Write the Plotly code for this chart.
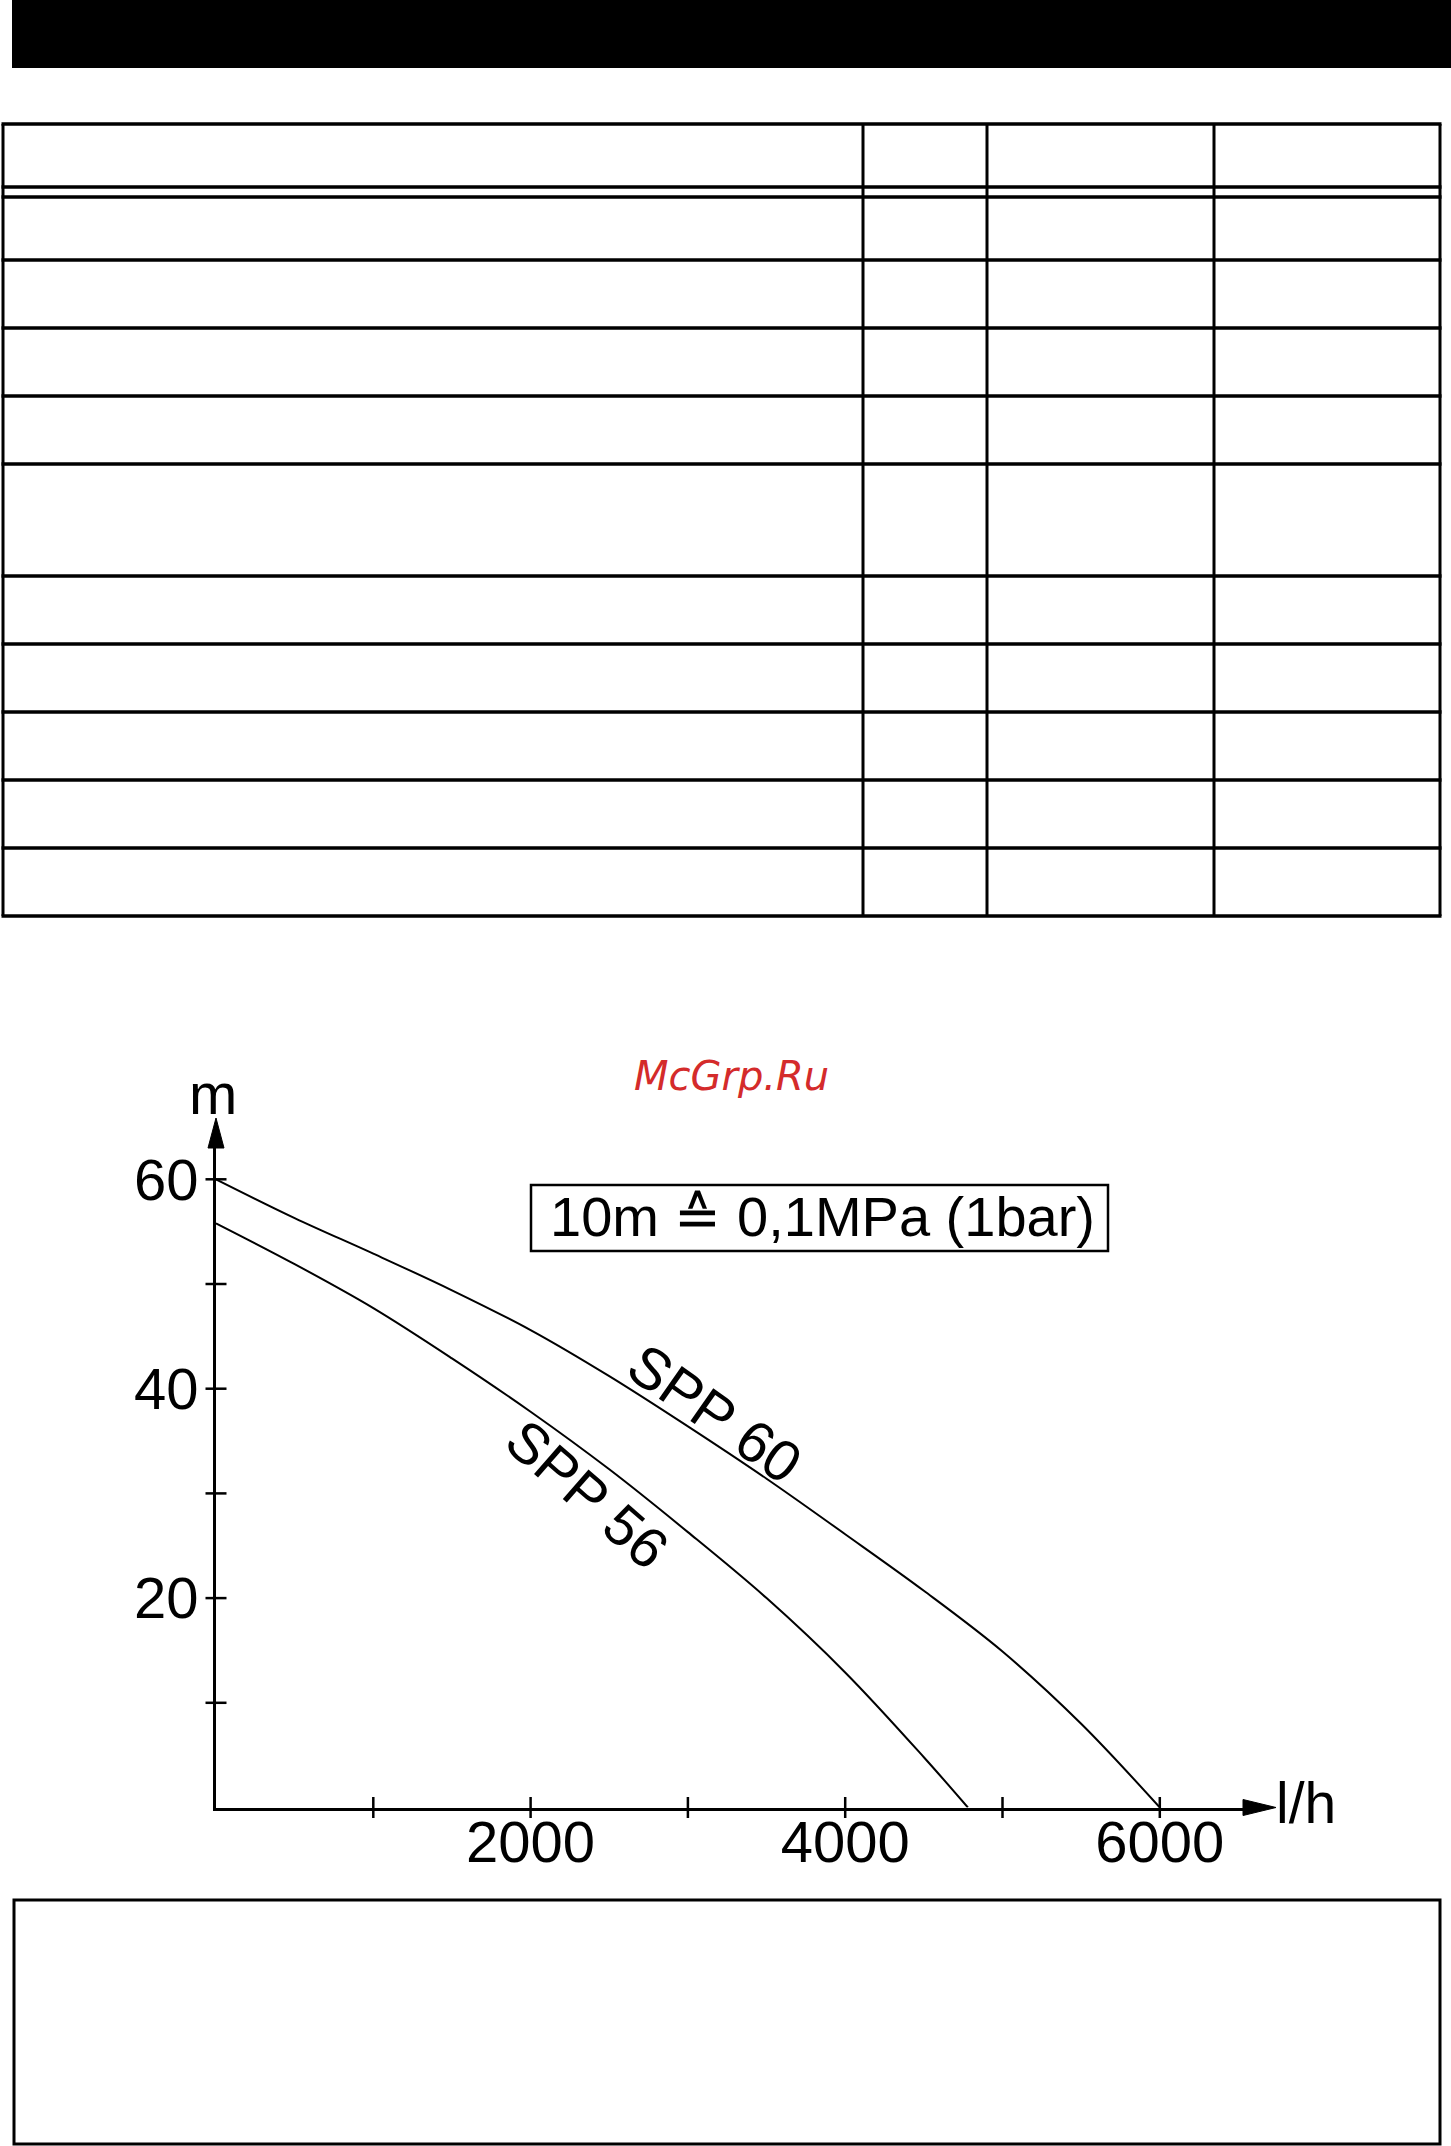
import plotly.graph_objects as go

# ---------------- data ----------------
flow_spp60 = [0, 500, 1000, 1500, 2000, 2500, 3000, 3500, 4000, 4500, 5000, 5500, 6000]
head_spp60 = [60.0, 56.3, 52.9, 49.4, 45.6, 41.2, 36.4, 31.4, 26.1, 20.7, 14.9, 8.0, 0.0]
flow_spp56 = [0, 500, 1000, 1500, 2000, 2500, 3000, 3500, 4000, 4500, 4780]
head_spp56 = [55.8, 51.9, 47.7, 42.9, 37.8, 32.3, 26.3, 20.0, 12.9, 4.8, 0.0]
x_tick_marks = [1000, 2000, 3000, 4000, 5000, 6000]
x_tick_labels = [2000, 4000, 6000]
y_tick_marks = [10, 20, 30, 40, 50, 60]
y_tick_labels = [20, 40, 60]
series_names = ["SPP 60", "SPP 56"]
note_text = "10m ≙ 0,1MPa (1bar)"
x_unit = "l/h"
y_unit = "m"
watermark = "McGrp.Ru"

# ---------------- page geometry (pixels) ----------------
W, H = 1451, 2146
def px(x):
    return x / W
def py(y):
    return 1 - y / H

X0_PX, X_END_PX = 216, 1243      # x axis origin / arrow base
Y0_PX, Y_END_PX = 1807.5, 1148   # y axis origin / arrow base
PX_PER_1000 = 157.3
PX_PER_10M = 104.7
FONT = "Liberation Sans, Arial, sans-serif"

fig = go.Figure()

fig.add_trace(go.Scatter(x=flow_spp60, y=head_spp60, mode="lines",
                         line=dict(color="black", width=2, shape="spline", smoothing=1.0),
                         name=series_names[0], hoverinfo="skip"))
fig.add_trace(go.Scatter(x=flow_spp56, y=head_spp56, mode="lines",
                         line=dict(color="black", width=2, shape="spline", smoothing=1.0),
                         name=series_names[1], hoverinfo="skip"))
# crossing tick marks
fig.add_trace(go.Scatter(x=x_tick_marks, y=[0] * len(x_tick_marks), mode="markers",
                         marker=dict(symbol="line-ns", size=15, line=dict(color="black", width=2.5)),
                         cliponaxis=False, hoverinfo="skip"))
fig.add_trace(go.Scatter(x=[0] * len(y_tick_marks), y=y_tick_marks, mode="markers",
                         marker=dict(symbol="line-ew", size=15, line=dict(color="black", width=2.5)),
                         cliponaxis=False, hoverinfo="skip"))

shapes = []
# black header bar
shapes.append(dict(type="rect", xref="paper", yref="paper", x0=px(12), x1=px(1451),
                   y0=py(68), y1=py(0), fillcolor="black", line=dict(width=0), layer="below"))
# table grid
row_lines = [124, 187, 197, 260, 328, 396, 464, 576, 644, 712, 780, 848, 916]
col_lines = [3, 863, 987, 1214, 1440]
for yy in row_lines:
    shapes.append(dict(type="line", xref="paper", yref="paper", x0=px(1.5), x1=px(1441.5),
                       y0=py(yy), y1=py(yy), line=dict(color="black", width=3.5)))
for xx in col_lines:
    shapes.append(dict(type="line", xref="paper", yref="paper", x0=px(xx), x1=px(xx),
                       y0=py(row_lines[0]), y1=py(row_lines[-1]), line=dict(color="black", width=3)))
# bottom empty box
shapes.append(dict(type="rect", xref="paper", yref="paper", x0=px(14), x1=px(1440),
                   y0=py(2144), y1=py(1900), line=dict(color="black", width=3)))
# note box
shapes.append(dict(type="rect", xref="paper", yref="paper", x0=px(531), x1=px(1108),
                   y0=py(1251), y1=py(1185), line=dict(color="black", width=2.5)))
# axis arrows
shapes.append(dict(type="path", xref="paper", yref="paper",
                   path=f"M {px(X_END_PX)},{py(Y0_PX-8)} L {px(X_END_PX)},{py(Y0_PX+8)} L {px(1276)},{py(Y0_PX)} Z",
                   fillcolor="black", line=dict(color="black", width=1)))
shapes.append(dict(type="path", xref="paper", yref="paper",
                   path=f"M {px(X0_PX-8)},{py(Y_END_PX)} L {px(X0_PX+8)},{py(Y_END_PX)} L {px(X0_PX)},{py(1118)} Z",
                   fillcolor="black", line=dict(color="black", width=1)))

annotations = [
    dict(text=watermark, xref="paper", yref="paper", x=px(731), y=py(1076), showarrow=False,
         xanchor="center", yanchor="middle",
         font=dict(family="DejaVu Sans", size=40, color="#d42b2b", style="italic")),
    dict(text=note_text, xref="paper", yref="paper", x=px(822), y=py(1216), showarrow=False,
         xanchor="center", yanchor="middle", font=dict(family=FONT, size=56, color="black")),
    dict(text=y_unit, xref="paper", yref="paper", x=px(213), y=py(1093), showarrow=False,
         xanchor="center", yanchor="middle", font=dict(family=FONT, size=58, color="black")),
    dict(text=x_unit, xref="paper", yref="paper", x=px(1274), y=py(1803), showarrow=False,
         xanchor="left", yanchor="middle", font=dict(family=FONT, size=57, color="black")),
    dict(text=series_names[0], xref="x", yref="y", x=3175, y=37.6, showarrow=False,
         textangle=35, xanchor="center", yanchor="middle", font=dict(family=FONT, size=58, color="black")),
    dict(text=series_names[1], xref="x", yref="y", x=2360, y=29.9, showarrow=False,
         textangle=41, xanchor="center", yanchor="middle", font=dict(family=FONT, size=57, color="black")),
]

fig.update_layout(
    width=W, height=H, margin=dict(l=0, r=0, t=0, b=0, pad=0),
    paper_bgcolor="white", plot_bgcolor="white", showlegend=False,
    shapes=shapes, annotations=annotations,
    xaxis=dict(domain=[px(X0_PX), px(X_END_PX)], range=[0, (X_END_PX - X0_PX) / PX_PER_1000 * 1000],
               showgrid=False, zeroline=False, showline=True, linecolor="black", linewidth=3,
               tickvals=x_tick_labels, ticktext=[str(v) for v in x_tick_labels], ticks="",
               ticklabelstandoff=-18, tickfont=dict(family=FONT, size=58, color="black"),
               fixedrange=True),
    yaxis=dict(domain=[py(Y0_PX), py(Y_END_PX)], range=[0, (Y0_PX - Y_END_PX) / PX_PER_10M * 10],
               showgrid=False, zeroline=False, showline=True, linecolor="black", linewidth=3,
               tickvals=y_tick_labels, ticktext=[str(v) for v in y_tick_labels], ticks="",
               ticklabelstandoff=3, tickfont=dict(family=FONT, size=58, color="black"),
               fixedrange=True),
)

fig.write_html("out.html", config={"displayModeBar": False},
               post_script="document.body.style.margin='0';document.body.style.overflow='hidden';")
